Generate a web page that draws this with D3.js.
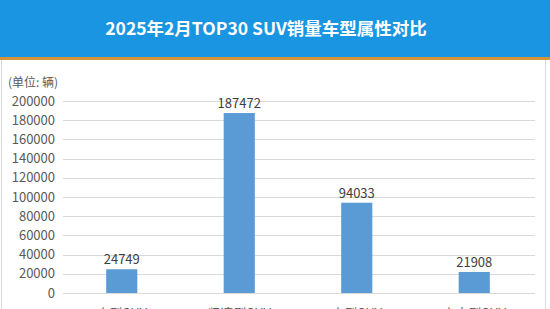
<!DOCTYPE html>
<html>
<head>
<meta charset="utf-8">
<script src="https://cdn.jsdelivr.net/npm/d3@7"></script>
<style>
  body { margin: 0; background: #fff; }
  svg { display: block; font-family: "Microsoft YaHei", "Noto Sans CJK SC", sans-serif; }
</style>
</head>
<body>
<div class="chart"></div>
<script>
// ----Data----
const categories = ["小型SUV", "紧凑型SUV", "中型SUV", "中大型SUV"];
const sales = [24749, 187472, 94033, 21908];
const yTicks = [0, 20000, 40000, 60000, 80000, 100000, 120000, 140000, 160000, 180000, 200000];

const W = 550, H = 309;
const margin = ({top: 101, right: 17, bottom: 16, left: 63});

const root = d3.select(".chart").append("svg")
    .attr("width", W)
    .attr("height", H);

// header bar
root.append("rect").attr("x", 0).attr("y", 0).attr("width", W).attr("height", 57).attr("fill", "#1995e1");
root.append("rect").attr("x", 0).attr("y", 57).attr("width", W).attr("height", 3).attr("fill", "#d4933a");
root.append("text")
    .attr("x", 266).attr("y", 35)
    .attr("text-anchor", "middle")
    .attr("fill", "#fff")
    .attr("font-size", 17.5)
    .attr("font-weight", "bold")
    .text("2025年2月TOP30 SUV销量车型属性对比");

// side borders
root.append("line").attr("x1", 1.5).attr("x2", 1.5).attr("y1", 60).attr("y2", H).attr("stroke", "#d9d9d9");
root.append("line").attr("x1", 545.5).attr("x2", 545.5).attr("y1", 60).attr("y2", H).attr("stroke", "#d9d9d9");

root.append("text")
    .attr("x", 8).attr("y", 87)
    .attr("fill", "#595959")
    .attr("font-size", 12)
    .text("(单位: 辆)");

const svg = root.append("g")
    .attr("transform", "translate(" + margin.left + "," + margin.top + ")");

const plotH = 192;

const xScale = d3.scaleBand()
    .domain(categories)
    .range([0, 470])
    .paddingInner(0.735)
    .paddingOuter(0.3675);

const yScale = d3.scaleLinear()
    .domain([0, 200000])
    .range([plotH, 0]);

// gridlines
svg.append("g").attr("class", "grid")
    .selectAll("line")
    .data(yTicks)
    .join("line")
    .attr("x1", 0).attr("x2", 472)
    .attr("y1", d => Math.round(yScale(d)) + 0.5)
    .attr("y2", d => Math.round(yScale(d)) + 0.5)
    .attr("stroke", "#d9d9d9");

const yAxis = d3.axisLeft(yScale)
    .tickValues(yTicks)
    .tickSize(0)
    .tickPadding(8)
    .tickFormat(d3.format("d"));

svg.append("g")
    .attr("class", "axis y-axis")
    .call(yAxis)
    .call(g => g.select(".domain").remove())
    .call(g => g.selectAll("text").attr("fill", "#595959").attr("font-size", 13)
        .attr("font-family", "'Microsoft YaHei', 'Noto Sans CJK SC', sans-serif"));

const xAxis = d3.axisBottom(xScale).tickSize(0).tickPadding(16);

svg.append("g")
    .attr("class", "axis x-axis")
    .attr("transform", `translate(0, ${plotH})`)
    .call(xAxis)
    .call(g => g.select(".domain").remove())
    .call(g => g.selectAll("text").attr("fill", "#595959").attr("font-size", 13)
        .attr("font-family", "'Microsoft YaHei', 'Noto Sans CJK SC', sans-serif"));

svg.selectAll(".bar")
    .data(sales)
    .join("rect")
    .attr("class", "bar")
    .attr("x", (d, i) => xScale(categories[i]))
    .attr("y", d => yScale(d))
    .attr("width", xScale.bandwidth())
    .attr("height", d => plotH - yScale(d))
    .attr("fill", "#5b9bd5");

svg.selectAll(".val")
    .data(sales)
    .join("text")
    .attr("class", "val")
    .attr("x", (d, i) => xScale(categories[i]) + xScale.bandwidth() / 2)
    .attr("y", d => yScale(d) - 5)
    .attr("text-anchor", "middle")
    .attr("fill", "#404040")
    .attr("font-size", 13)
    .text(d => d);
</script>
</body>
</html>
